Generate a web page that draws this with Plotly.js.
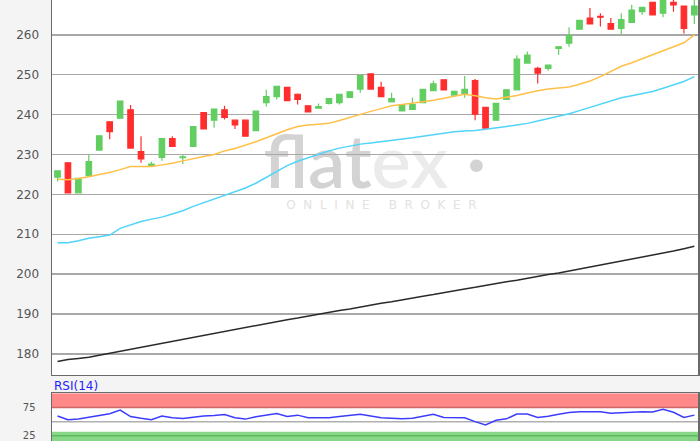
<!DOCTYPE html>
<html><head><meta charset="utf-8">
<script src="https://cdn.plot.ly/plotly-3.0.1.min.js"></script>
<style>
html,body{margin:0;padding:0;overflow:hidden;background:#f4f4f4;width:700px;height:441px}
#chart{position:absolute;left:0;top:-30px;width:700px;height:500px}
</style>
</head><body><div id="chart"></div>
<script>
const open  = [224.3,227.9,220.4,224.7,231.1,238.2,239.1,241.2,230.7,227.2,229.3,234.0,229.2,232.0,240.5,238.6,241.2,238.6,238.6,236.0,243.0,244.5,246.8,245.1,242.2,241.6,242.8,243.0,244.3,246.4,250.2,246.8,243.2,240.9,241.3,243.0,246.0,248.7,244.9,245.1,248.5,241.8,238.6,243.8,246.2,252.9,251.6,251.6,256.6,257.9,261.4,264.2,264.6,262.8,261.6,263.1,265.8,268.1,265.4,268.1,267.2,265.0];
const high  = [226.0,228.0,224.1,230.0,234.8,238.3,243.5,242.4,234.6,228.2,234.1,234.6,229.9,237.1,240.6,241.5,242.2,238.7,238.7,241.0,246.2,247.2,246.9,245.3,242.3,242.8,244.1,245.2,245.8,249.9,250.3,248.2,245.5,242.6,244.3,246.4,248.5,248.8,245.9,249.7,248.9,241.9,242.9,246.3,254.9,255.8,252.0,252.5,257.1,261.9,263.7,266.7,265.4,264.2,265.4,267.5,267.0,268.2,270.0,269.5,267.3,269.5];
const low   = [223.2,220.3,220.3,224.6,231.0,233.8,239.0,231.5,227.9,227.0,228.4,231.9,227.6,231.9,236.3,236.7,238.8,236.4,234.5,235.9,242.0,243.8,243.4,242.5,240.6,241.5,242.5,242.5,244.2,245.5,246.3,244.4,243.1,240.8,241.2,242.9,245.9,246.1,244.8,244.2,238.6,236.5,238.5,243.7,246.1,252.8,247.8,251.0,255.0,257.0,261.3,262.6,262.1,261.3,260.1,263.0,265.0,264.9,264.4,265.8,260.3,262.7];
const close = [225.9,220.4,224.0,228.2,234.7,235.7,243.4,231.6,228.9,227.6,234.0,232.0,229.4,237.0,236.4,241.4,239.3,237.4,234.6,240.9,244.5,247.1,243.5,243.8,240.7,242.0,244.0,245.1,245.7,249.8,246.4,244.5,244.0,242.5,242.5,246.3,247.7,246.2,245.8,246.3,240.1,236.6,242.8,246.2,253.9,254.9,250.4,252.4,257.0,259.8,263.6,262.7,264.4,261.4,263.8,266.2,266.9,265.0,269.5,267.5,261.6,267.2];
const maShort = [223.8,223.7,224.0,224.4,225.0,225.5,226.2,227.0,227.0,227.0,227.4,227.8,228.4,229.0,229.5,230.0,230.9,231.5,232.3,233.2,234.2,235.3,236.2,237.0,237.4,237.6,237.8,238.5,239.3,240.0,240.8,241.5,242.2,242.5,242.8,243.2,243.6,244.1,244.5,245.1,244.7,244.2,243.9,244.3,244.8,245.4,246.0,246.4,246.7,246.9,247.6,248.4,249.5,250.8,252.1,253.0,254.0,254.8,255.8,256.8,258.0,260.0];
const maMid = [207.9,207.9,208.4,209.0,209.4,209.8,211.5,212.3,213.2,213.8,214.3,215.1,215.9,217.0,217.9,218.9,219.8,220.6,221.6,222.8,224.3,225.7,227.2,228.3,229.2,230.1,230.9,231.6,232.1,232.6,232.9,233.2,233.5,233.8,234.2,234.6,235.0,235.3,235.7,235.9,236.0,236.3,236.6,237.0,237.4,237.8,238.4,239.0,239.5,240.2,241.0,241.8,242.6,243.4,244.2,244.7,245.2,245.8,246.6,247.5,248.3,249.5];
const maLong = [178.1,178.6,178.9,179.2,179.7,180.2,180.7,181.2,181.7,182.2,182.7,183.2,183.6,184.1,184.6,185.1,185.6,186.2,186.6,187.2,187.6,188.1,188.6,189.0,189.5,189.9,190.4,190.9,191.3,191.8,192.2,192.7,193.1,193.6,194.0,194.5,194.9,195.4,195.8,196.3,196.7,197.2,197.6,198.1,198.5,199.0,199.4,199.9,200.3,200.8,201.2,201.7,202.2,202.7,203.2,203.7,204.2,204.7,205.3,205.8,206.4,207.0];
const rsi = [60,53.5,54.5,57.5,61,64,70.5,59,56,53.5,60,57,55.5,58,60,61,62.5,57,54.5,58.5,62,64.5,59,61.5,57,57,57,59,61,63,60,57,56,55,56,59,63,57.5,57,57,50,44.2,52.5,55,63.5,63.5,57.5,59.5,63,66,67.6,67.6,67.6,64.8,66,67.6,67.6,67,71.8,66.5,57.5,61.5];
const yTicks = [180,190,200,210,220,230,240,250,260,270];
const rsiTicks = [25,75];
const rsiLevels = {upper:75, mid:50, lower:25};

const x = open.map((_, i) => i);
const GREEN = 'rgb(98,206,98)', RED = 'rgb(255,45,45)';
const tickFont = {family:'DejaVu Sans, Verdana, sans-serif', size:12, color:'#555'};

const traces = [
  {type:'scatter', mode:'lines', x:x, y:maLong, line:{color:'#2a2a2a', width:1.5}, hoverinfo:'skip', xaxis:'x', yaxis:'y'},
  {type:'scatter', mode:'lines', x:x, y:maMid, line:{color:'rgb(80,212,250)', width:1.5}, hoverinfo:'skip', xaxis:'x', yaxis:'y'},
  {type:'scatter', mode:'lines', x:x, y:maShort, line:{color:'rgb(255,192,72)', width:1.5}, hoverinfo:'skip', xaxis:'x', yaxis:'y'},
  {type:'candlestick', x:x, open:open, high:high, low:low, close:close, xaxis:'x', yaxis:'y',
   whiskerwidth:0,
   increasing:{line:{color:GREEN, width:1.2}, fillcolor:GREEN},
   decreasing:{line:{color:RED, width:1.2}, fillcolor:RED}},
  {type:'scatter', mode:'lines', x:x, y:rsi, line:{color:'rgb(60,60,255)', width:1.5}, hoverinfo:'skip', xaxis:'x2', yaxis:'y2'}
];

const shapes = [
  {type:'rect', xref:'paper', x0:0, x1:1, yref:'y2', y0:rsiLevels.upper, y1:100, fillcolor:'rgb(255,136,136)', line:{width:0}, layer:'below'},
  {type:'rect', xref:'paper', x0:0, x1:1, yref:'y2', y0:0, y1:32, fillcolor:'rgb(136,214,136)', line:{width:0}, layer:'below'},
  {type:'line', xref:'paper', x0:0, x1:1, yref:'y2', y0:rsiLevels.upper, y1:rsiLevels.upper, line:{color:'rgb(205,105,105)', width:1.5}, layer:'below'},
  {type:'line', xref:'paper', x0:0, x1:1, yref:'y2', y0:rsiLevels.mid, y1:rsiLevels.mid, line:{color:'#b0b0b0', width:1.5}, layer:'below'},
  {type:'line', xref:'paper', x0:0, x1:1, yref:'y2', y0:rsiLevels.lower, y1:rsiLevels.lower, line:{color:'rgb(95,185,95)', width:1.5}, layer:'below'},
  {type:'rect', xref:'paper', yref:'paper', x0:0.25, x1:0.75, y0:0.575, y1:0.665, line:{width:0}, fillcolor:'rgba(0,0,0,0)', layer:'below',
   label:{text:'flat<span style="fill:#ebebeb">ex</span> ·', textposition:'middle center',
          font:{family:'Lato, Open Sans, sans-serif', size:74, color:'#d3d3d3', weight:600}}},
  {type:'rect', xref:'paper', yref:'paper', x0:0.3, x1:0.72, y0:0.505, y1:0.54, line:{width:0}, fillcolor:'rgba(0,0,0,0)', layer:'below',
   label:{text:'O  N  L  I  N  E     B  R  O  K  E  R', textposition:'middle center',
          font:{family:'DejaVu Sans, sans-serif', size:12, color:'#e2e2e2'}}}
];

const layout = {
  width:700, height:500,
  margin:{l:52, r:2, t:10, b:20},
  paper_bgcolor:'#f4f4f4', plot_bgcolor:'#ffffff',
  showlegend:false, hovermode:false,
  boxgap:0.25,
  xaxis:{anchor:'y', domain:[0,1], range:[-0.527, 61.35], showticklabels:false, showgrid:false, zeroline:false,
         showline:true, linecolor:'#6a6a6a', linewidth:1.5, mirror:true, rangeslider:{visible:false}, ticks:''},
  xaxis2:{anchor:'y2', domain:[0,1], matches:'x', showticklabels:false, showgrid:false, zeroline:false,
          showline:true, linecolor:'#6a6a6a', linewidth:1.5, mirror:true, ticks:''},
  yaxis:{domain:[0.1596, 1], range:[174.74, 273.73], tickvals:yTicks, ticktext:yTicks.map(String),
         showgrid:true, gridcolor:'#a8a8a8', gridwidth:1.5, zeroline:false,
         showline:true, linecolor:'#6a6a6a', linewidth:1.5, mirror:true, ticks:'', ticklabelstandoff:9, tickfont:tickFont},
  yaxis2:{domain:[0, 0.1206], range:[0, 100], tickvals:rsiTicks, ticktext:rsiTicks.map(String),
          showgrid:false, zeroline:false, showline:true, linecolor:'#6a6a6a', linewidth:1.5, mirror:true, ticks:'',
          ticklabelstandoff:13, tickfont:{family:'DejaVu Sans, Verdana, sans-serif', size:10, color:'#555'}},
  shapes:shapes,
  annotations:[
    {xref:'paper', yref:'paper', x:0, y:0.136, xanchor:'left', yanchor:'middle', showarrow:false, text:'RSI(14)',
     font:{family:'DejaVu Sans, Verdana, sans-serif', size:12, color:'rgb(30,30,255)'}}
  ]
};

Plotly.newPlot('chart', traces, layout, {staticPlot:true, displayModeBar:false});
</script>
</body></html>
